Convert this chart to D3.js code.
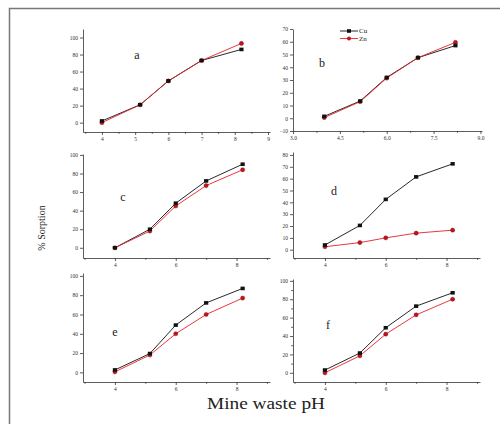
<!DOCTYPE html>
<html>
<head>
<meta charset="utf-8">
<script src="https://cdn.jsdelivr.net/npm/d3@7"></script>
<style>
  body { margin: 0; background: #fff; }
  svg { display: block; font-family: "Liberation Serif", "DejaVu Serif", serif; }
  .axis path, .axis line { stroke: #333; stroke-width: 0.8; }
  .axis text { font-size: 5.5px; fill: #333; font-family: "Liberation Serif", serif; }
</style>
</head>
<body>
<div class="chart"></div>
<script>
// pH values measured for every panel
const phValues = [4, 5.15, 6, 7, 8.2];
const panelNames = ["a", "b", "c", "d", "e", "f"];

// % sorption
const cuA = [2, 21, 49, 73, 86];
const znA = [0, 21, 49, 73, 93];
const cuB = [1.5, 13.5, 32, 47.5, 57];
const znB = [0.5, 13, 31.5, 47.5, 59.5];
const cuC = [0, 20, 48, 72, 90];
const znC = [0, 18, 45, 67, 84];
const cuD = [4, 20.5, 42.5, 61.5, 72.5];
const znD = [2.5, 6, 10, 14, 16.5];
const cuE = [2.5, 19.5, 49, 72, 87];
const znE = [0.5, 18, 40, 60, 77];
const cuF = [3, 21.5, 49, 72.5, 87];
const znF = [0, 18.5, 42, 63, 80];

// tick labels
const xTicksA = [4, 5, 6, 7, 8, 9];
const xTicksB = [3.0, 4.5, 6.0, 7.5, 9.0];
const xTicksLow = [4, 6, 8];
const yTicks100 = [0, 20, 40, 60, 80, 100];
const yTicksB = [-10, 0, 10, 20, 30, 40, 50, 60, 70];
const yTicksD = [0, 10, 20, 30, 40, 50, 60, 70, 80];

const seriesNames = ["Cu", "Zn"];
const seriesColors = ["#111", "#e8202a"];

const w = 500, h = 424;

// layout of each panel (pixel boxes) and its scale domains
var panels = [
  {cu: cuA, zn: znA, x0: 83, x1: 270, y0: 132, y1: 29, xd: [3.43, 9.06], yd: [-11, 110],
   xt: xTicksA, xminor: [3.5,4.5,5.5,6.5,7.5,8.5], yt: yTicks100, yminor: [], fmtx: d3.format("d"), lx: 137, ly: 59},
  {cu: cuB, zn: znB, x0: 293, x1: 482, y0: 131, y1: 29, xd: [3.0, 9.05], yd: [-10, 70],
   xt: xTicksB, xminor: [3.75,5.25,6.75,8.25], yt: yTicksB, yminor: [], fmtx: d3.format(".1f"), lx: 322, ly: 67},
  {cu: cuC, zn: znC, x0: 83, x1: 270, y0: 258, y1: 154, xd: [2.95, 9.1], yd: [-11, 101],
   xt: xTicksLow, xminor: [3,5,7,9], yt: yTicks100, yminor: [], fmtx: d3.format("d"), lx: 123, ly: 201},
  {cu: cuD, zn: znD, x0: 293, x1: 480, y0: 258, y1: 152, xd: [2.95, 9.1], yd: [-7, 82.5],
   xt: xTicksLow, xminor: [3,5,7,9], yt: yTicksD, yminor: [], fmtx: d3.format("d"), lx: 334, ly: 195},
  {cu: cuE, zn: znE, x0: 83, x1: 270, y0: 382, y1: 273, xd: [2.95, 9.1], yd: [-10, 103],
   xt: xTicksLow, xminor: [3,5,7,9], yt: yTicks100, yminor: [], fmtx: d3.format("d"), lx: 115, ly: 336},
  {cu: cuF, zn: znF, x0: 293, x1: 480, y0: 382, y1: 279, xd: [2.95, 9.1], yd: [-10, 102],
   xt: xTicksLow, xminor: [3,5,7,9], yt: yTicks100, yminor: [10,30,50,70,90], fmtx: d3.format("d"), lx: 328, ly: 329}
];

var svg = d3.select(".chart").append("svg")
  .attr("width", w)
  .attr("height", h);

// frame around the figure
svg.append("path")
  .attr("d", "M9.5," + h + "V8.5H" + w)
  .attr("fill", "none")
  .attr("stroke", "#777")
  .attr("stroke-width", 1.5);

panels.forEach(function(p, k) {
  var xScale = d3.scaleLinear().domain(p.xd).range([p.x0, p.x1]);
  var yScale = d3.scaleLinear().domain(p.yd).range([p.y0, p.y1]);
  var g = svg.append("g").attr("class", "panel-" + panelNames[k]);

  // minor ticks first so the major axis sits on top
  g.append("g").attr("class", "axis")
    .attr("transform", `translate(0,${p.y0})`)
    .call(d3.axisBottom(xScale).tickValues(p.xminor).tickSize(1.8).tickFormat(""))
    .select(".domain").remove();
  if (p.yminor.length) {
    g.append("g").attr("class", "axis")
      .attr("transform", `translate(${p.x0},0)`)
      .call(d3.axisLeft(yScale).tickValues(p.yminor).tickSize(1.8).tickFormat(""))
      .select(".domain").remove();
  }

  g.append("g").attr("class", "axis")
    .attr("transform", `translate(0,${p.y0})`)
    .call(d3.axisBottom(xScale).tickValues(p.xt).tickSize(3).tickPadding(2).tickFormat(p.fmtx).tickSizeOuter(0));

  g.append("g").attr("class", "axis")
    .attr("transform", `translate(${p.x0},0)`)
    .call(d3.axisLeft(yScale).tickValues(p.yt).tickSize(3).tickPadding(2).tickSizeOuter(0));

  var line = d3.line()
    .x(function(d, i) { return xScale(phValues[i]); })
    .y(function(d) { return yScale(d); });

  [p.cu, p.zn].forEach(function(vals, s) {
    g.append("path")
      .datum(vals)
      .attr("d", line)
      .attr("fill", "none")
      .attr("stroke", seriesColors[s])
      .attr("stroke-width", 0.9);
  });

  // Zn circles under Cu squares
  g.selectAll(".zn")
    .data(p.zn)
    .enter()
    .append("circle")
    .attr("class", "zn")
    .attr("cx", function(d, i) { return xScale(phValues[i]); })
    .attr("cy", function(d) { return yScale(d); })
    .attr("r", 2.1)
    .attr("fill", "#c0141c")
    .attr("stroke", "#7a0a0a")
    .attr("stroke-width", 0.4);

  g.selectAll(".cu")
    .data(p.cu)
    .enter()
    .append("rect")
    .attr("class", "cu")
    .attr("x", function(d, i) { return xScale(phValues[i]) - 2.1; })
    .attr("y", function(d) { return yScale(d) - 1.8; })
    .attr("width", 4.2)
    .attr("height", 3.6)
    .attr("fill", "#111");

  g.append("text") //panel letter
    .attr("x", p.lx)
    .attr("y", p.ly)
    .attr("text-anchor", "middle")
    .attr("font-size", 12)
    .attr("fill", "#222")
    .text(panelNames[k]);
});

// legend in panel b
seriesNames.forEach(function(name, s) {
  var ly = 31 + s * 7.5;
  svg.append("line")
    .attr("x1", 340).attr("x2", 358)
    .attr("y1", ly).attr("y2", ly)
    .attr("stroke", seriesColors[s])
    .attr("stroke-width", 0.9);
  if (s == 0) {
    svg.append("rect").attr("x", 347).attr("y", ly - 1.8).attr("width", 4).attr("height", 3.6).attr("fill", "#111");
  } else {
    svg.append("circle").attr("cx", 349).attr("cy", ly).attr("r", 2).attr("fill", "#c0141c");
  }
  svg.append("text")
    .attr("x", 359)
    .attr("y", ly + 2.2)
    .attr("font-size", 7)
    .attr("fill", "#222")
    .text(name);
});

svg.append("text") //axis label
  .attr("x", 266)
  .attr("y", 409)
  .attr("text-anchor", "middle")
  .attr("font-size", 16.5)
  .attr("textLength", 118)
  .attr("lengthAdjust", "spacingAndGlyphs")
  .attr("fill", "#222")
  .text("Mine waste pH");

svg.append("text") //axis label
  .attr("transform", "translate(45,228) rotate(-90)")
  .attr("text-anchor", "middle")
  .attr("font-size", 10)
  .attr("fill", "#222")
  .text("% Sorption");
</script>
</body>
</html>
